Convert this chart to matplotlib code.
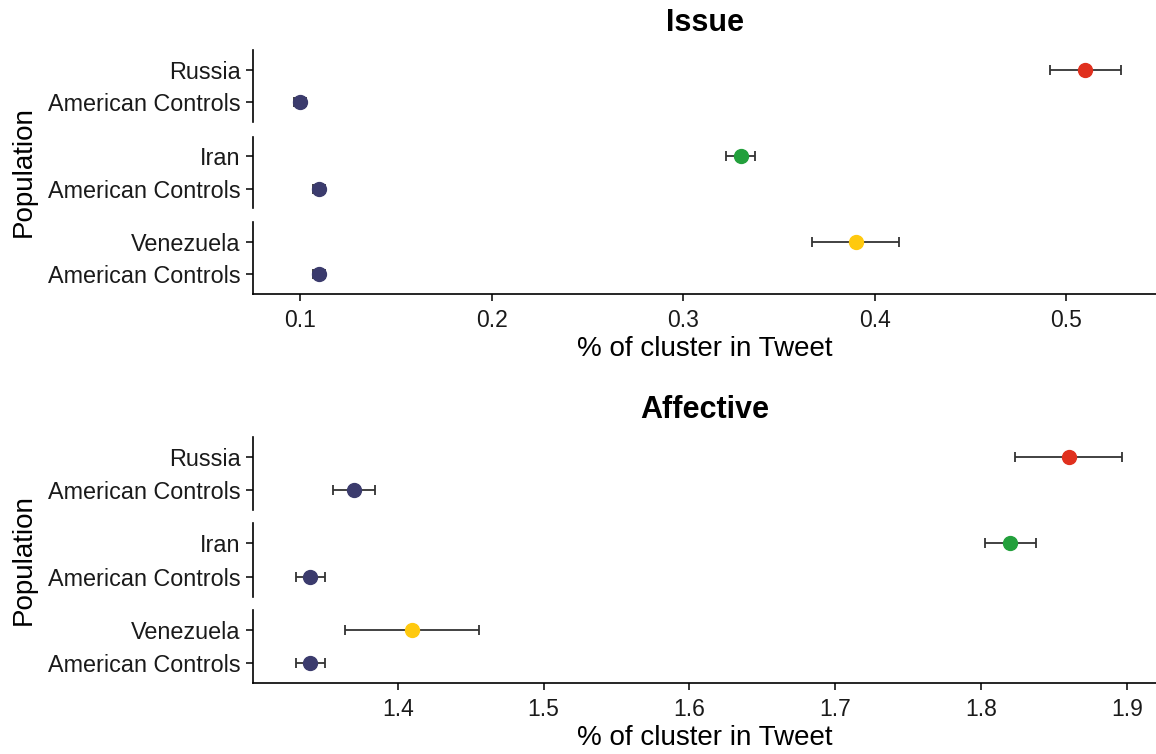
import matplotlib
matplotlib.use("Agg")
import matplotlib.pyplot as plt

# data
countries = ["Russia", "Iran", "Venezuela"]
control_label = "American Controls"
country_colors = ["#E0301E", "#23A03C", "#FFC90E"]
control_color = "#3B3B6D"

issue_country_mean = [0.51, 0.33, 0.39]
issue_country_err = [0.0185, 0.0076, 0.0227]
issue_control_mean = [0.10, 0.11, 0.11]
issue_control_err = [0.003, 0.003, 0.003]

affective_country_mean = [1.86, 1.82, 1.41]
affective_country_err = [0.037, 0.0175, 0.046]
affective_control_mean = [1.37, 1.34, 1.34]
affective_control_err = [0.0147, 0.01, 0.01]

issue_ticks = [0.1, 0.2, 0.3, 0.4, 0.5]
affective_ticks = [1.4, 1.5, 1.6, 1.7, 1.8, 1.9]

plt.rcParams['font.family'] = ['Liberation Sans', 'DejaVu Sans']

W, H = 1156, 754
fig = plt.figure(figsize=(W / 100, H / 100), dpi=100)


def px_axes(left, top, right, bottom):
    # add axes from pixel box (top-left origin)
    return fig.add_axes([left / W, 1 - bottom / H, (right - left) / W, (bottom - top) / H])


def draw_panel(title, facet_boxes, c_mean, c_err, a_mean, a_err, xlim, ticks):
    axes = []
    for i, (top, bottom) in enumerate(facet_boxes):
        ax = px_axes(253, top, 1156, bottom)
        ax.errorbar([a_mean[i]], [0], xerr=[a_err[i]], fmt='o', color=control_color,
                    ecolor='#333333', elinewidth=1.3, capsize=3.8, capthick=1.3,
                    markersize=10, zorder=3)
        ax.errorbar([c_mean[i]], [1], xerr=[c_err[i]], fmt='o', color=country_colors[i],
                    ecolor='#333333', elinewidth=1.3, capsize=3.8, capthick=1.3,
                    markersize=10, zorder=3)
        ax.set_xlim(xlim)
        ax.set_ylim(-0.6, 1.6)
        ax.set_yticks([0, 1])
        ax.set_yticklabels([control_label, countries[i]], fontsize=16.8, color='#1a1a1a')
        for s in ['top', 'right']:
            ax.spines[s].set_visible(False)
        ax.spines['left'].set_linewidth(1.2)
        ax.spines['bottom'].set_linewidth(1.2)
        ax.tick_params(axis='y', length=5, width=1.1, pad=4)
        if i < len(facet_boxes) - 1:
            ax.spines['bottom'].set_visible(False)
            ax.set_xticks([])
        else:
            ax.set_xticks(ticks)
            ax.set_xticklabels([f"{t:.1f}" for t in ticks], fontsize=16.5, color='#1a1a1a')
            ax.tick_params(axis='x', length=5, width=1.1, pad=6)
            ax.set_xlabel("% of cluster in Tweet", fontsize=20, labelpad=3)
        axes.append(ax)
    axes[0].set_title(title, fontsize=22, fontweight='bold', pad=14)
    mid = (facet_boxes[0][0] + facet_boxes[-1][1]) / 2
    fig.text(24 / W, 1 - mid / H, "Population", rotation=90, fontsize=20,
             ha='center', va='center')
    return axes


draw_panel("Issue", [(50, 122), (137, 208), (222, 294)],
           issue_country_mean, issue_country_err, issue_control_mean, issue_control_err,
           (0.0755, 0.5468), issue_ticks)

draw_panel("Affective", [(437, 510), (523, 597), (610, 683)],
           affective_country_mean, affective_country_err,
           affective_control_mean, affective_control_err,
           (1.3007, 1.920), affective_ticks)

fig.savefig("out.png", dpi=100)
